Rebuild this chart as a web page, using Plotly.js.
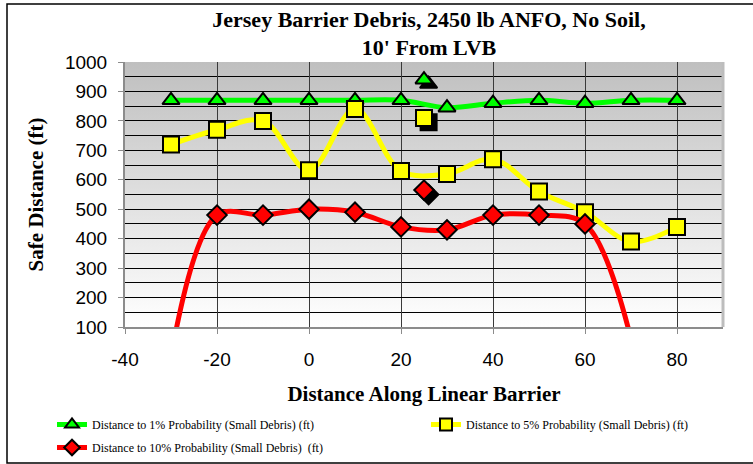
<!DOCTYPE html>
<html>
<head>
<meta charset="utf-8">
<script src="https://cdn.plot.ly/plotly-3.0.1.min.js"></script>
<style>
  html, body { margin: 0; padding: 0; background: #ffffff; }
  #chart { width: 753px; height: 464px; }
</style>
</head>
<body>
<div id="chart"></div>
<script>
// ---- Data ----
const positions = [-30, -20, -10, 0, 10, 20, 30, 40, 50, 60, 70, 80];
const prob1 = [870, 870, 870, 870, 870, 870, 845, 860, 870, 860, 870, 870];
const prob5 = [720, 770, 800, 632, 840, 630, 620, 670, 560, 490, 390, 440];
const positions10 = [-30, -20, -10, 0, 10, 20, 30, 40, 50, 60, 70];
const prob10 = [0, 480, 480, 500, 490, 440, 430, 480, 480, 450, 60];

// single highlighted points near x = 25 and their dark offset copies
const highlightX = [25];
const highlight1 = [940];
const highlight5 = [810];
const highlight10 = [565];
const shadowX = [26];
const shadow1 = [925];
const shadow5 = [795];
const shadow10 = [550];

const xTickVals = [-40, -20, 0, 20, 40, 60, 80];
const xTickText = ['-40', '-20', '0', '20', '40', '60', '80'];

const seriesNames = [
  'Distance to 1% Probability (Small Debris) (ft)',
  'Distance to 5% Probability (Small Debris) (ft)',
  'Distance to 10% Probability (Small Debris)  (ft)'
];
const titleText = 'Jersey Barrier Debris, 2450 lb ANFO, No Soil,<br>10\' From LVB';
const xTitle = 'Distance Along Linear Barrier';
const yTitle = 'Safe Distance (ft)';

// ---- Styling ----
const serif = 'Liberation Serif, Times New Roman, serif';
const sans = 'Liberation Sans, Arial, sans-serif';
const mline = { color: '#000000', width: 2 };

const traces = [
  {
    x: positions, y: prob1, name: seriesNames[0], type: 'scatter', mode: 'lines+markers',
    legend: 'legend', legendgroup: 'g1',
    line: { color: '#00ff00', width: 5, shape: 'spline', smoothing: 1 },
    marker: { symbol: 'triangle-up', size: 15, color: '#00ff00', line: mline }
  },
  {
    x: positions, y: prob5, name: seriesNames[1], type: 'scatter', mode: 'lines+markers',
    legend: 'legend2', legendgroup: 'g2',
    line: { color: '#ffff00', width: 5, shape: 'spline', smoothing: 1 },
    marker: { symbol: 'square', size: 16, color: '#ffff00', line: mline }
  },
  {
    x: positions10, y: prob10, name: seriesNames[2], type: 'scatter', mode: 'lines+markers',
    legend: 'legend', legendgroup: 'g3',
    line: { color: '#ff0000', width: 5, shape: 'spline', smoothing: 1 },
    marker: { symbol: 'diamond', size: 15, color: '#ff0000', line: mline }
  },
  { x: shadowX, y: shadow1, type: 'scatter', mode: 'markers', showlegend: false, hoverinfo: 'skip',
    marker: { symbol: 'triangle-up', size: 15, color: '#000000', line: mline } },
  { x: shadowX, y: shadow5, type: 'scatter', mode: 'markers', showlegend: false, hoverinfo: 'skip',
    marker: { symbol: 'square', size: 16, color: '#000000', line: mline } },
  { x: shadowX, y: shadow10, type: 'scatter', mode: 'markers', showlegend: false, hoverinfo: 'skip',
    marker: { symbol: 'diamond', size: 15, color: '#000000', line: mline } },
  { x: highlightX, y: highlight1, type: 'scatter', mode: 'markers', showlegend: false,
    marker: { symbol: 'triangle-up', size: 15, color: '#00ff00', line: mline } },
  { x: highlightX, y: highlight5, type: 'scatter', mode: 'markers', showlegend: false,
    marker: { symbol: 'square', size: 16, color: '#ffff00', line: mline } },
  { x: highlightX, y: highlight10, type: 'scatter', mode: 'markers', showlegend: false,
    marker: { symbol: 'diamond', size: 15, color: '#ff0000', line: mline } }
];

const gradSvg = "<svg xmlns='http://www.w3.org/2000/svg' width='10' height='100' viewBox='0 0 10 100' preserveAspectRatio='none'>" +
  "<defs><linearGradient id='g' x1='0' y1='0' x2='0' y2='1'>" +
  "<stop offset='0' stop-color='#bfbfbf'/><stop offset='1' stop-color='#ffffff'/>" +
  "</linearGradient></defs><rect x='0' y='0' width='10' height='100' fill='url(#g)'/></svg>";
const gradSrc = 'data:image/svg+xml;charset=utf-8,' + encodeURIComponent(gradSvg);

// plot area: x 125..723, y 62..327
const W = 753, H = 464, L = 125, R = 30, T = 62, B = 137;
const pw = W - L - R, ph = H - T - B;
const px = v => (v - L) / pw;
const py = v => (H - B - v) / ph;

const legendFont = { family: serif, size: 12, color: '#000000' };

const layout = {
  width: W, height: H,
  margin: { l: L, r: R, t: T, b: B, pad: 0, autoexpand: false },
  paper_bgcolor: '#ffffff',
  plot_bgcolor: 'rgba(0,0,0,0)',
  title: {
    text: titleText,
    font: { family: serif, size: 22, color: '#000000', weight: 'bold' },
    xref: 'paper', x: px(429), xanchor: 'center',
    yref: 'container', y: 1 - 26.5 / H, yanchor: 'middle'
  },
  xaxis: {
    range: [-40, 90], tickmode: 'array', tickvals: xTickVals, ticktext: xTickText,
    showgrid: true, gridcolor: '#3a3a3a', gridwidth: 1,
    zeroline: false, showline: true, linecolor: '#8c8c8c', linewidth: 2,
    ticks: 'outside', ticklen: 5, tickcolor: '#8c8c8c', tickwidth: 1,
    tickfont: { family: sans, size: 19, color: '#000000' },
    ticklabelstandoff: 9,
    title: { text: xTitle, font: { family: serif, size: 21, color: '#000000', weight: 'bold' }, standoff: 18 },
    fixedrange: true
  },
  yaxis: {
    range: [100, 1000], tick0: 0, dtick: 100,
    showgrid: true, gridcolor: '#000000', gridwidth: 1,
    minor: { dtick: 50, showgrid: true, gridcolor: '#000000', gridwidth: 1, ticks: '' },
    zeroline: false, showline: true, linecolor: '#8c8c8c', linewidth: 2,
    ticks: 'outside', ticklen: 5, tickcolor: '#8c8c8c', tickwidth: 1,
    tickfont: { family: sans, size: 19, color: '#000000' },
    ticklabelstandoff: 7,
    title: { text: yTitle, font: { family: serif, size: 21, color: '#000000', weight: 'bold' }, standoff: 16 },
    fixedrange: true
  },
  images: [{
    source: gradSrc, xref: 'paper', yref: 'paper', x: 0, y: 1, sizex: 1, sizey: 1,
    xanchor: 'left', yanchor: 'top', sizing: 'stretch', layer: 'below'
  }],
  shapes: [
    { type: 'line', xref: 'paper', yref: 'paper', x0: 1, x1: 1, y0: 0, y1: 1,
      line: { color: '#bdbdbd', width: 3 } },
    { type: 'rect', xref: 'paper', yref: 'paper', x0: px(7), x1: px(770), y0: py(463), y1: py(4),
      line: { color: '#000000', width: 1.5 }, fillcolor: 'rgba(0,0,0,0)', layer: 'above' }
  ],
  showlegend: true,
  legend: {
    orientation: 'v', x: px(52), xanchor: 'left', y: py(410), yanchor: 'top',
    font: legendFont, traceorder: 'grouped', tracegroupgap: 4,
    bgcolor: 'rgba(0,0,0,0)', itemsizing: 'constant'
  },
  legend2: {
    orientation: 'v', x: px(426), xanchor: 'left', y: py(410), yanchor: 'top',
    font: legendFont, bgcolor: 'rgba(0,0,0,0)', itemsizing: 'constant'
  }
};

Plotly.newPlot('chart', traces, layout, { displayModeBar: false, staticPlot: true });
</script>
</body>
</html>
